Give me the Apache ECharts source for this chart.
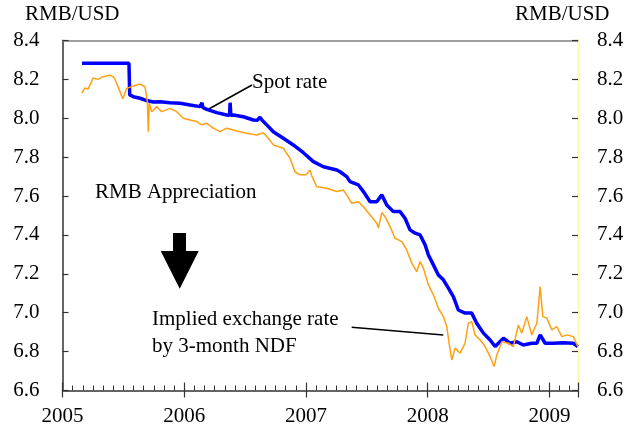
<!DOCTYPE html>
<html>
<head>
<meta charset="utf-8">
<script src="https://cdn.jsdelivr.net/npm/echarts@6/dist/echarts.min.js"></script>
<style>
  html, body { margin: 0; padding: 0; background: #fff; }
  #chart { width: 632px; height: 437px; }
</style>
</head>
<body>
<div id="chart"></div>
<script>
// spot rate (decimal year, RMB per USD)
const spotDates = [
  2005.160, 2005.546, 2005.552, 2005.582, 2005.637, 2005.692, 2005.746, 2005.801, 2005.883,
  2005.966, 2006.048, 2006.130, 2006.140, 2006.146, 2006.152, 2006.185, 2006.267, 2006.349,
  2006.372, 2006.377, 2006.383, 2006.403, 2006.486, 2006.568, 2006.600, 2006.623, 2006.640,
  2006.678, 2006.732, 2006.760, 2006.814, 2006.896, 2006.979, 2007.061, 2007.143, 2007.253,
  2007.280, 2007.335, 2007.362, 2007.431, 2007.445, 2007.472, 2007.527, 2007.582, 2007.623,
  2007.664, 2007.718, 2007.773, 2007.814, 2007.855, 2007.897, 2007.938, 2007.979, 2008.006,
  2008.047, 2008.088, 2008.129, 2008.170, 2008.211, 2008.252, 2008.307, 2008.362, 2008.403,
  2008.458, 2008.513, 2008.554, 2008.622, 2008.677, 2008.732, 2008.786, 2008.855, 2008.897,
  2008.924, 2008.965, 2009.033, 2009.115, 2009.197, 2009.233
];
const spotRates = [
  8.283, 8.283, 8.12, 8.111, 8.103, 8.091, 8.084, 8.085, 8.080,
  8.077, 8.068, 8.060, 8.058, 8.080, 8.056, 8.046, 8.029, 8.017,
  8.015, 8.080, 8.015, 8.017, 8.008, 7.991, 7.990, 8.005, 7.990,
  7.966, 7.931, 7.919, 7.897, 7.863, 7.823, 7.777, 7.751, 7.734,
  7.725, 7.700, 7.674, 7.657, 7.666, 7.623, 7.571, 7.571, 7.606,
  7.554, 7.520, 7.520, 7.486, 7.426, 7.409, 7.400, 7.349, 7.297,
  7.246, 7.194, 7.169, 7.126, 7.083, 7.014, 6.998, 6.998, 6.946,
  6.895, 6.860, 6.826, 6.869, 6.843, 6.851, 6.834, 6.843, 6.843,
  6.886, 6.843, 6.843, 6.845, 6.843, 6.826
];

// implied rate from 3-month NDF
const ndfDates = [
  2005.158, 2005.185, 2005.210, 2005.251, 2005.292, 2005.333, 2005.390, 2005.423, 2005.445,
  2005.472, 2005.495, 2005.528, 2005.582, 2005.637, 2005.678, 2005.697, 2005.705, 2005.713,
  2005.733, 2005.774, 2005.815, 2005.883, 2005.938, 2005.993, 2006.048, 2006.103, 2006.144,
  2006.185, 2006.239, 2006.294, 2006.349, 2006.403, 2006.458, 2006.514, 2006.596, 2006.650,
  2006.691, 2006.732, 2006.814, 2006.869, 2006.910, 2006.951, 2007.001, 2007.034, 2007.050,
  2007.089, 2007.171, 2007.253, 2007.307, 2007.335, 2007.376, 2007.431, 2007.472, 2007.527,
  2007.582, 2007.595, 2007.623, 2007.650, 2007.691, 2007.732, 2007.787, 2007.828, 2007.869,
  2007.910, 2007.938, 2007.965, 2008.006, 2008.047, 2008.088, 2008.129, 2008.157, 2008.178,
  2008.198, 2008.225, 2008.266, 2008.307, 2008.334, 2008.362, 2008.389, 2008.431, 2008.472,
  2008.513, 2008.546, 2008.568, 2008.609, 2008.663, 2008.704, 2008.745, 2008.773, 2008.814,
  2008.855, 2008.897, 2008.924, 2008.946, 2008.979, 2009.020, 2009.061, 2009.102, 2009.143,
  2009.197, 2009.233
];
const ndfRates = [
  8.13, 8.156, 8.15, 8.207, 8.2, 8.214, 8.222, 8.21, 8.18,
  8.137, 8.10, 8.154, 8.166, 8.176, 8.162, 8.085, 7.931, 8.077,
  8.034, 8.060, 8.034, 8.051, 8.034, 8.000, 7.991, 7.983, 7.966,
  7.974, 7.949, 7.931, 7.949, 7.940, 7.931, 7.923, 7.914, 7.926,
  7.897, 7.863, 7.846, 7.794, 7.725, 7.709, 7.709, 7.734, 7.700,
  7.648, 7.640, 7.623, 7.631, 7.606, 7.563, 7.571, 7.545, 7.503,
  7.460, 7.435, 7.515, 7.494, 7.443, 7.383, 7.366, 7.323, 7.255,
  7.211, 7.263, 7.229, 7.143, 7.092, 7.023, 6.980, 6.929, 6.835,
  6.757, 6.818, 6.792, 6.843, 6.946, 6.954, 6.886, 6.860, 6.826,
  6.774, 6.723, 6.783, 6.851, 6.843, 6.826, 6.937, 6.895, 6.980,
  6.886, 6.946, 7.134, 6.980, 6.972, 6.912, 6.929, 6.877, 6.886,
  6.877, 6.826
];

const yearTicks = ['2005', '2006', '2007', '2008', '2009'];
const yMin = 6.6, yMax = 8.4, yStep = 0.2;
const xMin = 2005, xMax = 2009.235;

const serif = 'Liberation Serif, Times New Roman, serif';
const chart = echarts.init(document.getElementById('chart'));

const baseX = { type: 'value', min: xMin, max: xMax, position: 'bottom', gridIndex: 0 };

chart.setOption({
  animation: false,
  grid: { left: 62.5, right: 54, top: 40.5, bottom: 46.5 },
  xAxis: [
    {
      ...baseX,
      interval: 1,
      axisLine: { lineStyle: { color: '#333', width: 1.5 } },
      axisTick: { inside: true, length: 8, lineStyle: { color: '#333', width: 1.2 } },
      axisLabel: {
        margin: 15, color: '#000', fontFamily: serif, fontSize: 21,
        formatter: v => yearTicks.includes(String(v)) ? String(v) : ''
      },
      splitLine: { show: false }
    },
    {
      // monthly minor ticks
      ...baseX,
      interval: 1 / 12,
      axisLine: { show: false },
      axisTick: { inside: true, length: 5, lineStyle: { color: '#333', width: 1 } },
      axisLabel: { show: false },
      splitLine: { show: false }
    },
    {
      // lower half of the year ticks
      ...baseX,
      interval: 1,
      axisLine: { show: false },
      axisTick: { inside: false, length: 7, lineStyle: { color: '#333', width: 1.2 } },
      axisLabel: { show: false },
      splitLine: { show: false }
    },
    {
      ...baseX,
      position: 'top',
      axisLine: { lineStyle: { color: '#808080', width: 1.5 } },
      axisTick: { show: false },
      axisLabel: { show: false },
      splitLine: { show: false }
    }
  ],
  yAxis: [
    {
      type: 'value', position: 'left', min: yMin, max: yMax, interval: yStep,
      axisLine: { show: true, lineStyle: { color: '#333', width: 1.5 } },
      axisTick: { inside: true, length: 6, lineStyle: { color: '#333', width: 1.2 } },
      axisLabel: { margin: 23, color: '#000', fontFamily: serif, fontSize: 21, formatter: v => v.toFixed(1) },
      splitLine: { show: false }
    },
    {
      type: 'value', position: 'right', min: yMin, max: yMax, interval: yStep,
      axisLine: { show: true, lineStyle: { color: '#ffffb0', width: 3 } },
      axisTick: { inside: true, length: 6, lineStyle: { color: '#333', width: 1.2 } },
      axisLabel: { margin: 19, color: '#000', fontFamily: serif, fontSize: 21, formatter: v => v.toFixed(1) },
      splitLine: { show: false }
    }
  ],
  series: [
    {
      name: 'Spot rate',
      type: 'line',
      xAxisIndex: 0,
      yAxisIndex: 0,
      data: spotDates.map((d, i) => [d, spotRates[i]]),
      showSymbol: false,
      lineStyle: { color: '#0000ff', width: 3.5 },
      z: 3
    },
    {
      name: 'Implied exchange rate by 3-month NDF',
      type: 'line',
      xAxisIndex: 0,
      yAxisIndex: 1,
      data: ndfDates.map((d, i) => [d, ndfRates[i]]),
      showSymbol: false,
      lineStyle: { color: '#ffa010', width: 1.5 },
      z: 4
    }
  ],
  graphic: [
    { type: 'text', left: 25, top: 4, style: { text: 'RMB/USD', font: '21px ' + serif, fill: '#000' } },
    { type: 'text', left: 515, top: 4, style: { text: 'RMB/USD', font: '21px ' + serif, fill: '#000' } },
    { type: 'text', left: 252, top: 72, style: { text: 'Spot rate', font: '21px ' + serif, fill: '#000' } },
    { type: 'line', shape: { x1: 252, y1: 85, x2: 207, y2: 110 }, style: { stroke: '#000', lineWidth: 1.5 } },
    { type: 'text', left: 95, top: 182, style: { text: 'RMB Appreciation', font: '21px ' + serif, fill: '#000' } },
    {
      type: 'polygon',
      shape: { points: [[173, 233], [186, 233], [186, 251], [198.7, 251], [179.7, 288.7], [160.7, 251], [173, 251]] },
      style: { fill: '#000' }
    },
    {
      type: 'text', left: 152, top: 306,
      style: { text: 'Implied exchange rate\nby 3-month NDF', font: '21px ' + serif, lineHeight: 27, fill: '#000' }
    },
    { type: 'line', shape: { x1: 351.7, y1: 327.3, x2: 443.3, y2: 335 }, style: { stroke: '#000', lineWidth: 1.5 } }
  ]
});
</script>
</body>
</html>
